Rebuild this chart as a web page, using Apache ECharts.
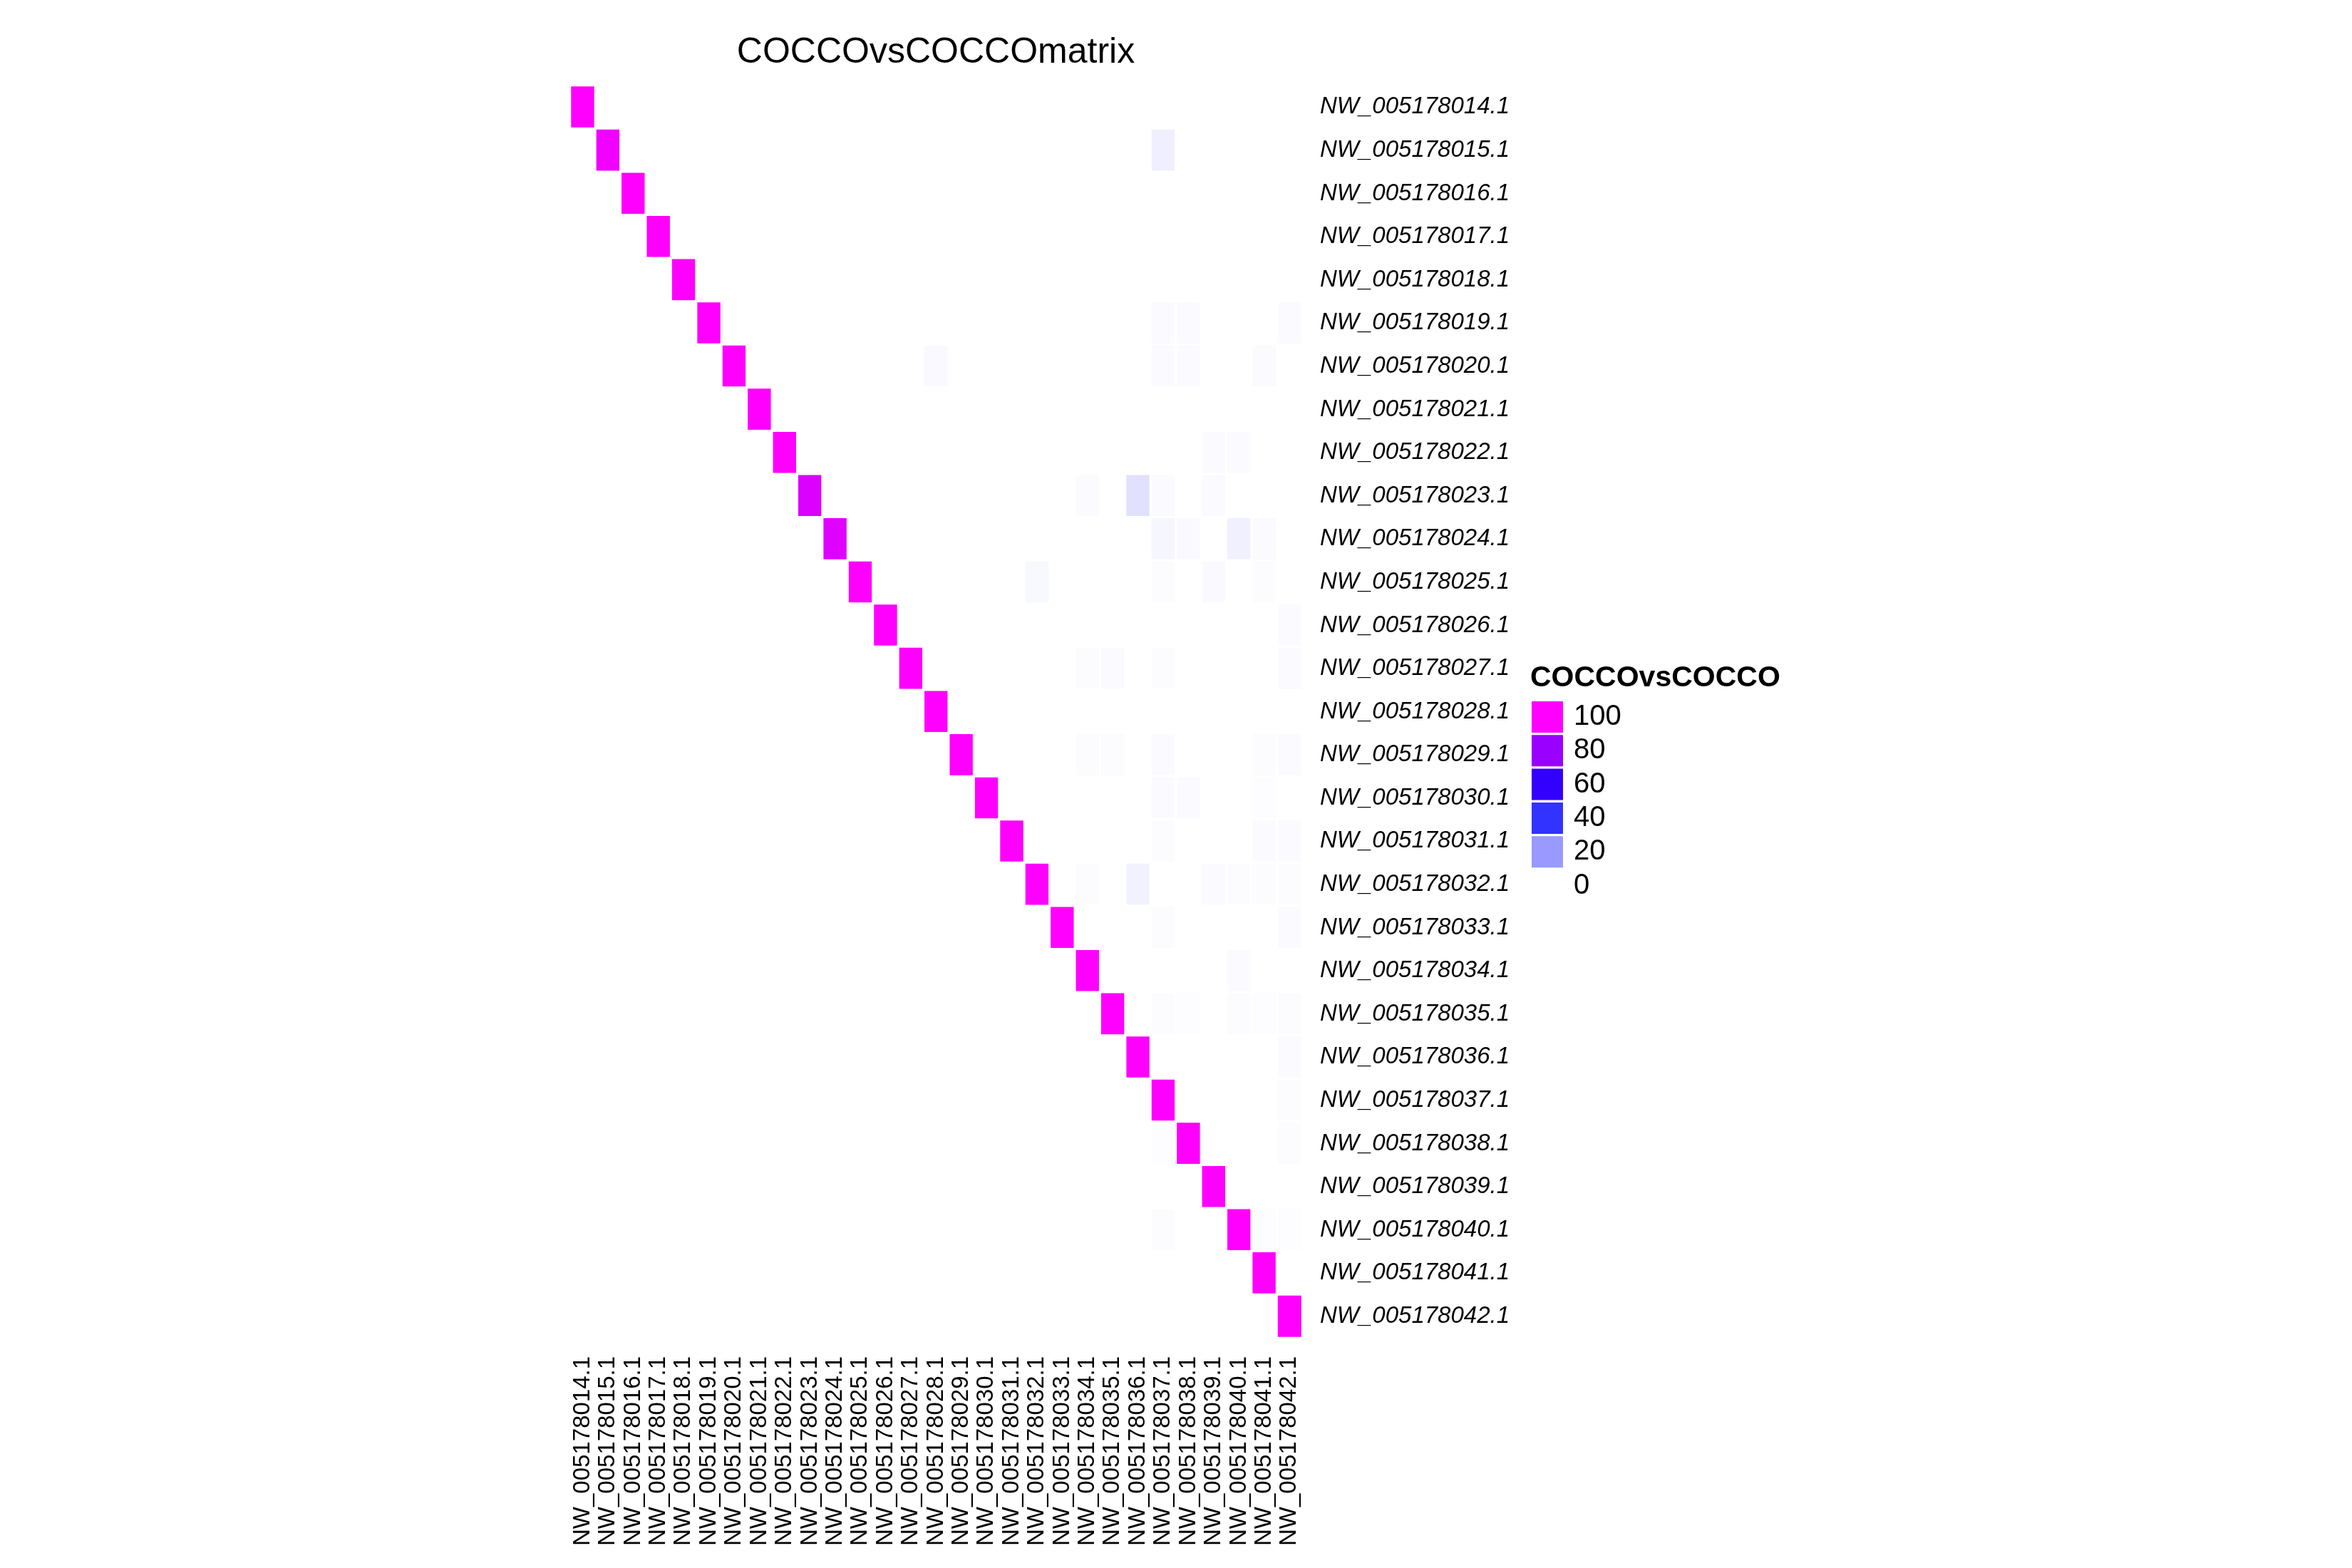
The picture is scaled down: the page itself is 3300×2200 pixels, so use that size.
<!DOCTYPE html>
<html>
<head>
<meta charset="utf-8">
<script src="https://cdn.jsdelivr.net/npm/echarts@6/dist/echarts.min.js"></script>
<style>
  html, body { margin: 0; padding: 0; background: #ffffff; }
  #chart { width: 3300px; height: 2200px; }
</style>
</head>
<body>
<div id="chart"></div>
<script>
// ---- data ----
const contigs = [
  'NW_005178014.1','NW_005178015.1','NW_005178016.1','NW_005178017.1','NW_005178018.1',
  'NW_005178019.1','NW_005178020.1','NW_005178021.1','NW_005178022.1','NW_005178023.1',
  'NW_005178024.1','NW_005178025.1','NW_005178026.1','NW_005178027.1','NW_005178028.1',
  'NW_005178029.1','NW_005178030.1','NW_005178031.1','NW_005178032.1','NW_005178033.1',
  'NW_005178034.1','NW_005178035.1','NW_005178036.1','NW_005178037.1','NW_005178038.1',
  'NW_005178039.1','NW_005178040.1','NW_005178041.1','NW_005178042.1'
];
// self-comparison values (diagonal), in contig order
const diagValues = [100, 97, 100, 100, 100, 100, 100, 100, 100, 93,
                    94, 100, 100, 100, 100, 100, 100, 100, 100, 100,
                    100, 100, 100, 100, 100, 100, 100, 100, 100];
// off-diagonal non-zero cells: [rowIndex, colIndex, value]
const offDiag = [
  [1, 23, 3.2],
  [5, 23, 0.8], [5, 24, 0.8], [5, 28, 0.8],
  [6, 14, 1.2], [6, 23, 0.8], [6, 24, 0.8], [6, 27, 0.8],
  [8, 25, 0.7], [8, 26, 0.7],
  [9, 20, 0.7], [9, 22, 5.8], [9, 23, 1.0], [9, 25, 1.0],
  [10, 23, 1.8], [10, 24, 1.2], [10, 26, 3.0], [10, 27, 1.0],
  [11, 18, 1.4], [11, 23, 0.6], [11, 25, 1.2], [11, 27, 0.6],
  [12, 28, 0.7],
  [13, 20, 0.6], [13, 21, 0.8], [13, 23, 0.6], [13, 28, 1.0],
  [15, 20, 0.5], [15, 21, 0.5], [15, 23, 0.8], [15, 27, 0.5], [15, 28, 0.8],
  [16, 23, 0.8], [16, 24, 1.0], [16, 27, 0.4],
  [17, 23, 0.5], [17, 27, 0.8], [17, 28, 0.8],
  [18, 20, 0.6], [18, 22, 2.5], [18, 25, 1.0], [18, 26, 0.6], [18, 27, 0.5], [18, 28, 0.6],
  [19, 23, 0.6], [19, 28, 0.8],
  [20, 26, 0.9],
  [21, 23, 0.6], [21, 24, 0.4], [21, 26, 0.5], [21, 27, 0.4], [21, 28, 0.6],
  [22, 28, 0.8],
  [23, 28, 0.6],
  [24, 23, 0.3], [24, 28, 0.5],
  [26, 23, 0.6], [26, 27, 0.3], [26, 28, 0.4]
];
// legend keys
const legendValues = [0, 20, 40, 60, 80, 100];
const legendColors = ['#ffffff', '#9999ff', '#3333ff', '#3300ff', '#9900ff', '#ff00ff'];
// colour scale stops (value 0, 50, 100)
const scaleColors = ['#ffffff', '#0000ff', '#ff00ff'];

// ---- build matrix ----
const lookup = {};
offDiag.forEach(function (d) { lookup[d[0] + '_' + d[1]] = d[2]; });
const cells = [];
for (let r = 0; r < contigs.length; r++) {
  for (let c = 0; c < contigs.length; c++) {
    let v = 0;
    if (r === c) v = diagValues[r];
    else if (lookup[r + '_' + c] !== undefined) v = lookup[r + '_' + c];
    cells.push([c, r, v]);
  }
}

const FONT = '"Liberation Sans", Arial, Helvetica, sans-serif';
const chart = echarts.init(document.getElementById('chart'), null, { renderer: 'canvas' });

chart.setOption({
  backgroundColor: '#ffffff',
  animation: false,
  title: [
    {
      text: 'COCCOvsCOCCOmatrix',
      left: 1308,
      textAlign: 'center',
      top: 44,
      textStyle: { fontFamily: FONT, fontSize: 50, fontWeight: 'normal', color: '#000000' }
    },
    {
      text: 'COCCOvsCOCCO',
      left: 2147,
      top: 931,
      padding: 0,
      textStyle: { fontFamily: FONT, fontSize: 41, fontWeight: 'bold', color: '#000000' }
    }
  ],
  grid: { left: 800, right: 1473, top: 120, bottom: 323, containLabel: false },
  xAxis: {
    type: 'category',
    data: contigs,
    position: 'bottom',
    axisLine: { show: false },
    axisTick: { show: false },
    splitLine: { show: false },
    splitArea: { show: false },
    axisLabel: {
      interval: 0,
      rotate: 90,
      margin: 26,
      fontFamily: FONT,
      fontSize: 33,
      color: '#000000'
    }
  },
  yAxis: {
    type: 'category',
    data: contigs,
    inverse: true,
    position: 'right',
    axisLine: { show: false },
    axisTick: { show: false },
    splitLine: { show: false },
    splitArea: { show: false },
    axisLabel: {
      interval: 0,
      margin: 25,
      fontFamily: FONT,
      fontSize: 33,
      fontStyle: 'italic',
      color: '#000000'
    }
  },
  visualMap: [
    {
      type: 'continuous',
      show: false,
      seriesIndex: 0,
      dimension: 2,
      min: 0,
      max: 100,
      inRange: { color: scaleColors }
    },
    {
      type: 'piecewise',
      seriesIndex: 1,
      orient: 'vertical',
      align: 'left',
      left: 2149,
      top: 984,
      padding: 0,
      itemWidth: 44,
      itemHeight: 44,
      itemGap: 3.3,
      textGap: 15,
      itemSymbol: 'rect',
      selectedMode: false,
      pieces: legendValues.map(function (v, i) {
        return { value: v, label: String(v), color: legendColors[i] };
      }),
      textStyle: { fontFamily: FONT, fontSize: 40, color: '#000000' }
    }
  ],
  series: [
    {
      type: 'heatmap',
      data: cells,
      progressive: 0,
      itemStyle: { borderColor: '#ffffff', borderWidth: 3 },
      emphasis: { disabled: true },
      label: { show: false }
    },
    {
      type: 'heatmap',
      data: [],
      silent: true
    }
  ]
});
</script>
</body>
</html>
